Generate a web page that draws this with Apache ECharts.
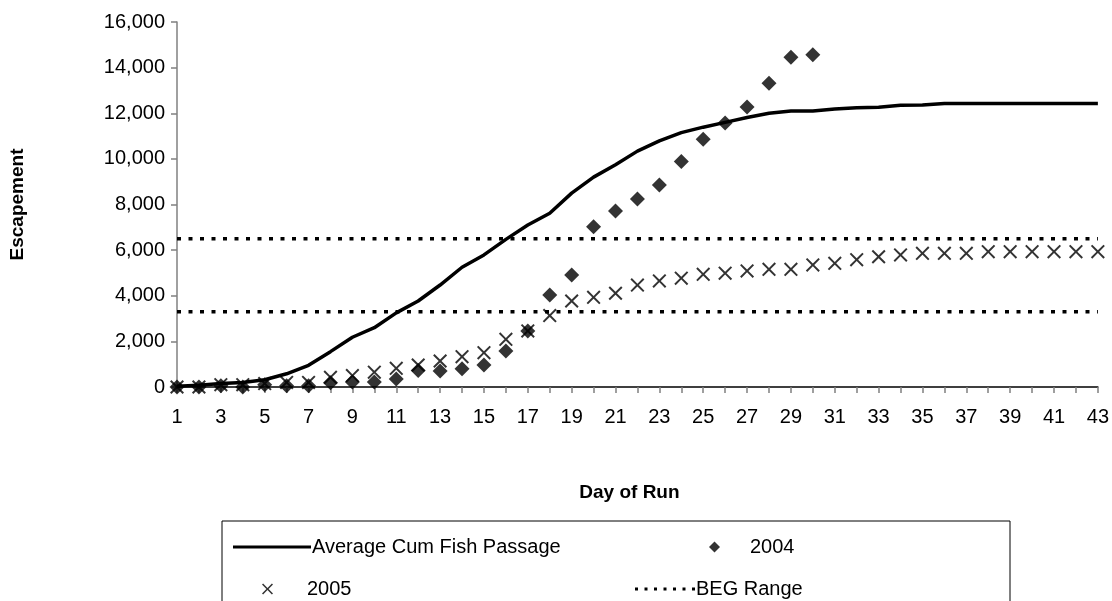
<!DOCTYPE html>
<html>
<head>
<meta charset="utf-8">
<script src="https://cdn.jsdelivr.net/npm/echarts@6/dist/echarts.min.js"></script>
<style>html,body{margin:0;padding:0;background:#fff;}#c{width:1112px;height:601px;}</style>
</head>
<body>
<div id="c"></div>
<script>
const days = Array.from({length: 43}, (_, i) => String(i + 1));
const avgPassage = [30, 80, 150, 200, 320, 580, 950, 1550, 2180, 2600, 3250, 3770, 4470, 5250, 5790, 6470, 7100, 7620, 8500, 9200, 9740, 10340, 10790, 11150, 11390, 11600, 11810, 12000, 12100, 12100, 12190, 12240, 12260, 12350, 12360, 12430, 12430, 12430, 12430, 12430, 12430, 12430, 12430];
const y2004 = [0, 0, 50, 0, 100, 60, 60, 190, 220, 220, 350, 720, 700, 800, 960, 1580, 2450, 4030, 4910, 7030, 7710, 8240, 8850, 9880, 10860, 11570, 12270, 13320, 14460, 14560];
const y2005 = [0, 0, 100, 100, 150, 200, 200, 425, 500, 650, 820, 965, 1140, 1330, 1505, 2090, 2456, 3130, 3770, 3930, 4110, 4470, 4650, 4770, 4940, 4990, 5090, 5160, 5160, 5350, 5420, 5580, 5710, 5790, 5860, 5860, 5860, 5930, 5930, 5930, 5930, 5930, 5930];
const begLow = 3300;
const begHigh = 6500;

const FONT = 'Liberation Sans, Arial, sans-serif';
const crossPath = 'path://M0,1L1,0L5,4L9,0L10,1L6,5L10,9L9,10L5,6L1,10L0,9L4,5Z';
const solidIcon = 'path://M0,0H78V3H0Z';
let dots = '';
for (let i = 0; i < 7; i++) { const x = i * 9.5; dots += 'M' + x + ',0H' + (x + 3) + 'V3H' + x + 'Z'; }
const dottedIcon = 'path://' + dots;

const chart = echarts.init(document.getElementById('c'), null, {renderer: 'canvas'});
chart.setOption({
  animation: false,
  backgroundColor: '#fff',
  textStyle: {fontFamily: FONT},
  grid: {left: 177, right: 14, top: 22, bottom: 214, containLabel: false},
  xAxis: {
    type: 'category', data: days, boundaryGap: false,
    name: 'Day of Run', nameLocation: 'middle', nameGap: 96,
    nameTextStyle: {fontFamily: FONT, fontWeight: 'bold', fontSize: 19, color: '#000', padding: [0, 16, 0, 0]},
    axisLine: {lineStyle: {color: '#000', width: 1.5}},
    axisTick: {show: true, interval: 0, length: 6, lineStyle: {color: '#808080', width: 1.5}},
    axisLabel: {interval: 1, margin: 20, fontSize: 20, color: '#000', fontFamily: FONT},
    splitLine: {show: false}
  },
  yAxis: {
    type: 'value', min: 0, max: 16000, interval: 2000,
    name: 'Escapement', nameLocation: 'middle', nameGap: 150, nameRotate: 90,
    nameTextStyle: {fontFamily: FONT, fontWeight: 'bold', fontSize: 19, color: '#000'},
    axisLine: {show: true, lineStyle: {color: '#808080', width: 1.5}},
    axisTick: {show: true, length: 6, lineStyle: {color: '#808080', width: 1.5}},
    axisLabel: {margin: 12, fontSize: 20, color: '#000', fontFamily: FONT,
      formatter: v => v.toLocaleString('en-US')},
    splitLine: {show: false}
  },
  legend: [
    {data: [{name: 'Average Cum Fish Passage', icon: solidIcon}], left: 228, top: 532, itemWidth: 78, itemHeight: 3,
      itemStyle: {color: '#000'},
      textStyle: {fontSize: 20, color: '#000', fontFamily: FONT, padding: [0, 0, 0, -4]}},
    {data: ['2004'], left: 704, top: 532, itemWidth: 11, itemHeight: 11,
      textStyle: {fontSize: 20, color: '#000', fontFamily: FONT, padding: [0, 0, 0, 25]}},
    {data: ['2005'], left: 257, top: 574, itemWidth: 11, itemHeight: 11,
      textStyle: {fontSize: 20, color: '#000', fontFamily: FONT, padding: [0, 0, 0, 29]}},
    {data: [{name: 'BEG Range', icon: dottedIcon}], left: 630, top: 574, itemWidth: 60, itemHeight: 3,
      itemStyle: {color: '#000'},
      textStyle: {fontSize: 20, color: '#000', fontFamily: FONT, padding: [0, 0, 0, -4]}}
  ],
  graphic: [{type: 'rect', shape: {x: 222, y: 521, width: 788, height: 100}, silent: true,
    style: {fill: 'none', stroke: '#000', lineWidth: 1}}],
  series: [
    {name: 'BEG Range', type: 'line', data: days.map(() => begLow), symbol: 'none',
      itemStyle: {color: '#000'}, lineStyle: {color: '#000', width: 3.5, type: [4, 7.5]}, z: 1},
    {name: 'BEG Range', type: 'line', data: days.map(() => begHigh), symbol: 'none',
      itemStyle: {color: '#000'}, lineStyle: {color: '#000', width: 3.5, type: [4, 7.5]}, z: 1},
    {name: 'Average Cum Fish Passage', type: 'line', data: avgPassage, symbol: 'none',
      lineStyle: {color: '#000', width: 3.5}, itemStyle: {color: '#000'}, z: 2},
    {name: '2004', type: 'scatter', data: y2004, symbol: 'diamond', symbolSize: [15, 15],
      itemStyle: {color: '#000'}, z: 3},
    {name: '2005', type: 'scatter', data: y2005, symbol: crossPath, symbolSize: 14,
      itemStyle: {color: '#000'}, z: 4}
  ]
});
</script>
</body>
</html>
